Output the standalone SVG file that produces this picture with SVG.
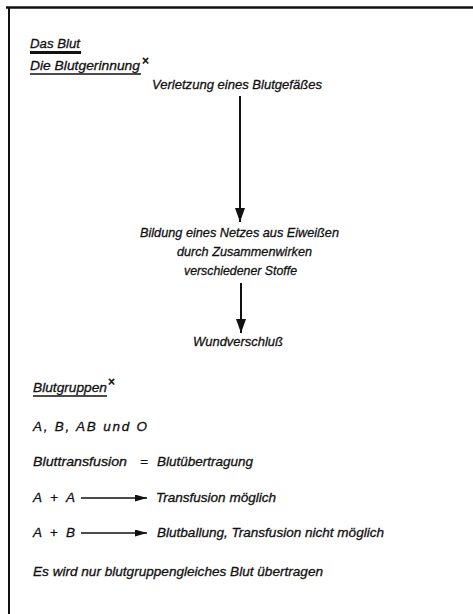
<svg xmlns="http://www.w3.org/2000/svg" width="473" height="614" viewBox="0 0 473 614">
<style>
text{font-family:"Liberation Sans",Arial,sans-serif;font-style:italic;font-size:13.5px;fill:#111;stroke:#111;stroke-width:0.3}
.sup{font-size:12px;font-style:normal;stroke-width:0.6}
.ul{stroke:#111;stroke-width:1.3}
.con{stroke:#111;stroke-width:2;fill:none}
.hcon{stroke:#111;stroke-width:1.6;fill:none}
</style>
<defs>
<marker id="vh" viewBox="0 0 14 10" refX="14" refY="5" markerWidth="14" markerHeight="10" markerUnits="userSpaceOnUse" orient="auto">
<path d="M0,0 L14,5 L0,10 Z" fill="#111"/>
</marker>
<marker id="hh" viewBox="0 0 12 7" refX="12" refY="3.5" markerWidth="12" markerHeight="7" markerUnits="userSpaceOnUse" orient="auto">
<path d="M0,0 L12,3.5 L0,7 Z" fill="#111"/>
</marker>
</defs>
<rect width="473" height="614" fill="#fff"/>
<g id="frame">
<line x1="6" y1="7.5" x2="473" y2="7.5" stroke="#111" stroke-width="2.6"/>
<line x1="9" y1="7" x2="9" y2="614" stroke="#111" stroke-width="2"/>
</g>
<g id="title">
<text x="30" y="48" textLength="50" lengthAdjust="spacingAndGlyphs">Das Blut</text>
<line x1="30" y1="52.5" x2="81" y2="52.5" stroke="#111" stroke-width="3"/>
</g>
<g id="heading-gerinnung">
<text x="30" y="70" textLength="110" lengthAdjust="spacingAndGlyphs">Die Blutgerinnung</text>
<line class="ul" x1="30" y1="74" x2="141" y2="74"/>
<text class="sup" x="142" y="65">×</text>
</g>
<g id="n-verletzung">
<text x="152" y="89" textLength="170" lengthAdjust="spacingAndGlyphs">Verletzung eines Blutgefäßes</text>
</g>
<g id="n-bildung">
<text x="140" y="237" textLength="199" lengthAdjust="spacingAndGlyphs">Bildung eines Netzes aus Eiweißen</text>
<text x="177" y="256" textLength="135" lengthAdjust="spacingAndGlyphs">durch Zusammenwirken</text>
<text x="184" y="275" textLength="113" lengthAdjust="spacingAndGlyphs">verschiedener Stoffe</text>
</g>
<g id="n-wundverschluss">
<text x="193" y="346" textLength="90" lengthAdjust="spacingAndGlyphs">Wundverschluß</text>
</g>
<g id="heading-blutgruppen">
<text x="33" y="392" textLength="74" lengthAdjust="spacingAndGlyphs">Blutgruppen</text>
<line class="ul" x1="33" y1="396" x2="107" y2="396"/>
<text class="sup" x="108" y="386">×</text>
</g>
<g id="groups">
<text x="33" y="431" textLength="114" lengthAdjust="spacing">A, B, AB und O</text>
</g>
<g id="transfusion">
<text x="33" y="466" textLength="94" lengthAdjust="spacingAndGlyphs">Bluttransfusion</text>
<text x="140" y="466">=</text>
<text x="157" y="466" textLength="96" lengthAdjust="spacingAndGlyphs">Blutübertragung</text>
</g>
<g id="aa">
<text x="33" y="502" textLength="42" lengthAdjust="spacing">A + A</text>
<text x="156" y="502" textLength="120" lengthAdjust="spacingAndGlyphs">Transfusion möglich</text>
</g>
<g id="ab">
<text x="33" y="537" textLength="42" lengthAdjust="spacing">A + B</text>
<text x="157" y="537" textLength="227" lengthAdjust="spacingAndGlyphs">Blutballung, Transfusion nicht möglich</text>
</g>
<g id="summary">
<text x="33" y="576" textLength="290" lengthAdjust="spacingAndGlyphs">Es wird nur blutgruppengleiches Blut übertragen</text>
</g>
<g id="connectors">
<line class="con" x1="240" y1="96" x2="240" y2="222" marker-end="url(#vh)"/>
<line class="con" x1="241" y1="283" x2="241" y2="333" marker-end="url(#vh)"/>
<line class="hcon" x1="81" y1="498" x2="147" y2="498" marker-end="url(#hh)"/>
<line class="hcon" x1="81" y1="533" x2="147" y2="533" marker-end="url(#hh)"/>
</g>
</svg>
